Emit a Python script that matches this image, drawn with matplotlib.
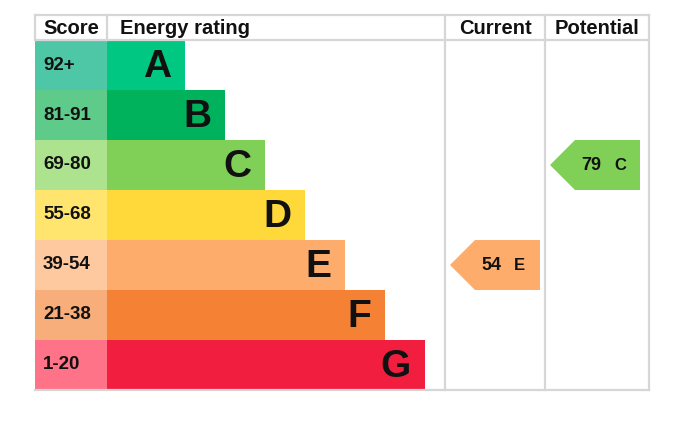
import matplotlib
matplotlib.use("Agg")
import matplotlib.pyplot as plt
from matplotlib.patches import Rectangle, Polygon

bands = ["A", "B", "C", "D", "E", "F", "G"]
score_ranges = ["92+", "81-91", "69-80", "55-68", "39-54", "21-38", "1-20"]
bar_colors = ["#00C882", "#00B25C", "#80D058", "#FFD83A", "#FDAC6B", "#F58234", "#F21E40"]
score_colors = ["#4EC7A7", "#5FCB8B", "#ADE38F", "#FFE56E", "#FFC9A0", "#F8AE7A", "#FF7388"]
current_value, current_band = 54, "E"
potential_value, potential_band = 79, "C"

W, H = 693, 427
fig = plt.figure(figsize=(W / 100, H / 100), dpi=100)
ax = fig.add_axes([0, 0, 1, 1])
ax.set_xlim(0, W)
ax.set_ylim(H, 0)
ax.axis("off")

left, score_right = 35, 107
top, head_bot = 16, 41
row_h = 50
bar_base, bar_step = 78, 40
cur_l, pot_l, right = 445, 545, 649
bottom = head_bot + row_h * len(bands)
font = "Liberation Sans"
grid = "#D6D6D6"
txt = "#111111"

for i, (b, sr, bc, sc) in enumerate(zip(bands, score_ranges, bar_colors, score_colors)):
    y0 = head_bot + i * row_h
    ax.add_patch(Rectangle((left, y0), score_right - left, row_h, color=sc, lw=0))
    bw = bar_base + bar_step * i
    ax.add_patch(Rectangle((score_right, y0), bw, row_h, color=bc, lw=0))
    ax.text(left + 8, y0 + row_h / 2 - 1, sr, fontsize=13.5, fontweight="bold", family=font,
            ha="left", va="center", color=txt)
    ax.text(score_right + bw - 14, y0 + row_h / 2 + 1, b, fontsize=28, fontweight="bold",
            family=font, ha="right", va="center", color=txt)

# grid lines
lw = 1.6
ax.plot([left, right], [top, top], color=grid, lw=lw)
ax.plot([left, right], [head_bot, head_bot], color=grid, lw=lw)
ax.plot([left, right], [bottom, bottom], color=grid, lw=lw)
for x in (left, score_right):
    ax.plot([x, x], [top, head_bot], color=grid, lw=lw)
for x in (cur_l, pot_l, right):
    ax.plot([x, x], [top, bottom], color=grid, lw=lw)

hy = (top + head_bot) / 2 + 0.5
hs = 14.5
ax.text((left + score_right) / 2, hy, "Score", fontsize=hs,
        fontweight="bold", family=font, ha="center", va="center", color=txt)
ax.text(score_right + 13, hy, "Energy rating", fontsize=hs,
        fontweight="bold", family=font, ha="left", va="center", color=txt)
ax.text((cur_l + pot_l) / 2, hy, "Current", fontsize=hs,
        fontweight="bold", family=font, ha="center", va="center", color=txt)
ax.text((pot_l + right) / 2, hy, "Potential", fontsize=hs,
        fontweight="bold", family=font, ha="center", va="center", color=txt)


def arrow(col_left, value, band):
    i = bands.index(band)
    y0 = head_bot + i * row_h
    tip = col_left + 5
    body_l = tip + 25
    body_r = col_left + 95
    pts = [(tip, y0 + row_h / 2), (body_l, y0), (body_r, y0), (body_r, y0 + row_h), (body_l, y0 + row_h)]
    ax.add_patch(Polygon(pts, closed=True, color=bar_colors[i], lw=0))
    cy = y0 + row_h / 2 - 0.5
    ax.text(body_l + 6, cy, str(value), fontsize=13, fontweight="bold", family=font,
            ha="left", va="center", color=txt)
    ax.text(body_l + 39, cy, band, fontsize=12, fontweight="bold", family=font,
            ha="left", va="center", color=txt)


arrow(cur_l, current_value, current_band)
arrow(pot_l, potential_value, potential_band)

fig.savefig("out.png", dpi=100, facecolor="white")
